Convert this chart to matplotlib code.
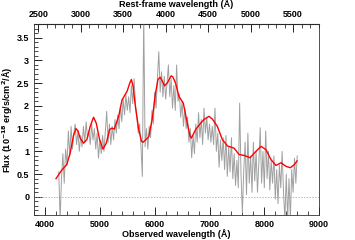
import numpy as np
import matplotlib
matplotlib.use('Agg')
import matplotlib.pyplot as plt
from matplotlib.ticker import MultipleLocator, FormatStrFormatter, FixedLocator

plt.rcParams['font.family'] = ['Liberation Sans', 'DejaVu Sans']
plt.rcParams['font.weight'] = 'bold'

# redshift factor (observed / rest)
zfac = 1.55

# observed spectrum (gray), 25 A steps from 4250 to 8600
wave = np.arange(4250, 8601, 25)
flux = [
    0.55, -0.50, 0.40, 0.95,
    0.30, 1.05, 0.70, 1.45,
    0.90, 1.55, 1.05, 1.40,
    1.60, 1.15, 1.45, 1.00,
    1.35, 1.10, 1.55, 1.20,
    1.65, 1.30, 1.45, 1.15,
    1.60, 1.25, 1.50, 1.05,
    1.40, 0.85, 1.25, 0.95,
    1.35, 1.00, 1.45, 1.88,
    1.20, 1.60, 1.15, 1.55,
    1.25, 1.70, 1.40, 1.80,
    1.50, 2.00, 1.65, 2.15,
    1.80, 2.25, 1.90, 2.20,
    1.85, 2.45, 2.05, 2.60,
    2.00, 1.75, 1.40, 1.60,
    1.10, 0.45, 4.00, 1.10,
    1.50, 1.05, 1.55, 1.30,
    1.90, 1.60, 2.30, 1.95,
    2.60, 3.19, 2.30, 2.75,
    2.20, 2.65, 2.15, 2.50,
    2.90, 2.20, 2.60, 1.95,
    2.45, 1.90, 2.90, 2.10,
    2.25, 1.75, 2.10, 1.55,
    1.95, 1.50, 1.75, 1.20,
    1.50, 0.86, 1.35, 0.95,
    1.60, 1.20, 1.85, 1.30,
    1.70, 1.15, 1.95, 1.40,
    1.75, 1.25, 1.60, 1.20,
    1.55, 1.15, 1.95, 1.00,
    1.40, 0.65, 1.25, 0.80,
    1.30, 0.60, 1.35, 0.45,
    1.10, 0.55, 1.30, 0.40,
    0.95, 0.25, 0.80, 0.20,
    2.06, 0.50, -0.35, 0.60,
    1.20, 0.05, 1.40, 0.30,
    0.90, 0.10, 1.20, 0.35,
    1.00, 0.10, 0.75, 1.52,
    0.30, 1.00, 0.20, 1.45,
    0.40, 1.00, 0.15, 0.80,
    0.30, 0.90, -0.05, 0.60,
    -0.15, 0.70, 0.20, 1.00,
    0.10, -0.50, 0.50, -0.50,
    0.40, -0.50, 0.60, 0.10,
    0.85, 0.30, 0.90,
]

# model / template (red)
model_wave = [4200, 4300, 4397, 4458, 4520, 4565, 4600, 4641, 4702, 4763,
              4824, 4885, 4934, 4995, 5056, 5117, 5178, 5221, 5264, 5343,
              5404, 5496, 5545, 5575, 5606, 5648, 5709, 5760, 5789, 5892,
              5954, 6015, 6060, 6100, 6150, 6179, 6228, 6300, 6330, 6381,
              6442, 6522, 6595, 6640, 6669, 6747, 6839, 6899, 6991, 7052,
              7143, 7234, 7326, 7448, 7540, 7632, 7741, 7815, 7938, 8029,
              8121, 8212, 8304, 8396, 8474, 8548, 8597]
model_flux = [0.40, 0.58, 0.71, 0.96, 1.35, 1.50, 1.45, 1.29, 1.18, 1.26,
              1.55, 1.75, 1.62, 1.26, 1.05, 1.18, 1.48, 1.51, 1.49, 1.77,
              2.13, 2.32, 2.50, 2.58, 2.43, 1.99, 1.48, 1.22, 1.20, 1.32,
              1.70, 2.28, 2.58, 2.63, 2.52, 2.44, 2.50, 2.66, 2.64, 2.50,
              2.21, 2.06, 1.62, 1.36, 1.29, 1.48, 1.62, 1.70, 1.77, 1.71,
              1.55, 1.26, 1.12, 1.07, 0.93, 0.91, 0.86, 0.96, 1.11, 1.04,
              0.82, 0.69, 0.75, 0.67, 0.64, 0.71, 0.79]

# rest-frame tick values for the top axis
rest_major = [2500, 3000, 3500, 4000, 4500, 5000, 5500]
rest_minor = list(range(2500, 5801, 100))

fig = plt.figure(figsize=(3.55, 2.4), dpi=100)
ax = fig.add_axes([0.096, 0.104, 0.803, 0.796])

ax.axhline(0, color='#999999', ls=(0, (2, 2)), lw=0.5)
ax.plot(wave, flux, color='#a0a0a0', lw=0.7)
ax.plot(model_wave, model_flux, color='red', lw=1.0)

ax.set_xlim(3800, 9000)
ax.set_ylim(-0.4, 3.8)
ax.xaxis.set_major_locator(MultipleLocator(1000))
ax.xaxis.set_minor_locator(MultipleLocator(200))
ax.yaxis.set_major_locator(MultipleLocator(0.5))
ax.yaxis.set_minor_locator(MultipleLocator(0.1))
ax.yaxis.set_major_formatter(FormatStrFormatter('%g'))
ax.tick_params(which='both', direction='in', labelsize=6.5, top=False, right=False)
ax.tick_params(which='major', length=6, width=0.6)
ax.tick_params(which='minor', length=3, width=0.5)
ax.set_xlabel('Observed wavelength (Å)', fontsize=6.5, fontweight='bold', labelpad=0)
ax.set_ylabel('Flux (10$^{-18}$ erg/s/cm$^2$/Å)', fontsize=6.5, fontweight='bold')
ax.yaxis.set_label_coords(-0.068, 0.5)
for s in ax.spines.values():
    s.set_linewidth(0.6)
    s.set_color('#333333')

top = ax.secondary_xaxis('top', functions=(lambda x: x / zfac, lambda x: x * zfac))
top.xaxis.set_major_locator(FixedLocator(rest_major))
top.xaxis.set_minor_locator(FixedLocator(rest_minor))
top.tick_params(which='both', direction='in', labelsize=6.5)
top.tick_params(which='major', length=6, width=0.6)
top.tick_params(which='minor', length=3, width=0.5)
top.set_xlabel('Rest-frame wavelength (Å)', fontsize=6.5, fontweight='bold', labelpad=2)

fig.savefig('out.png', dpi=100)
